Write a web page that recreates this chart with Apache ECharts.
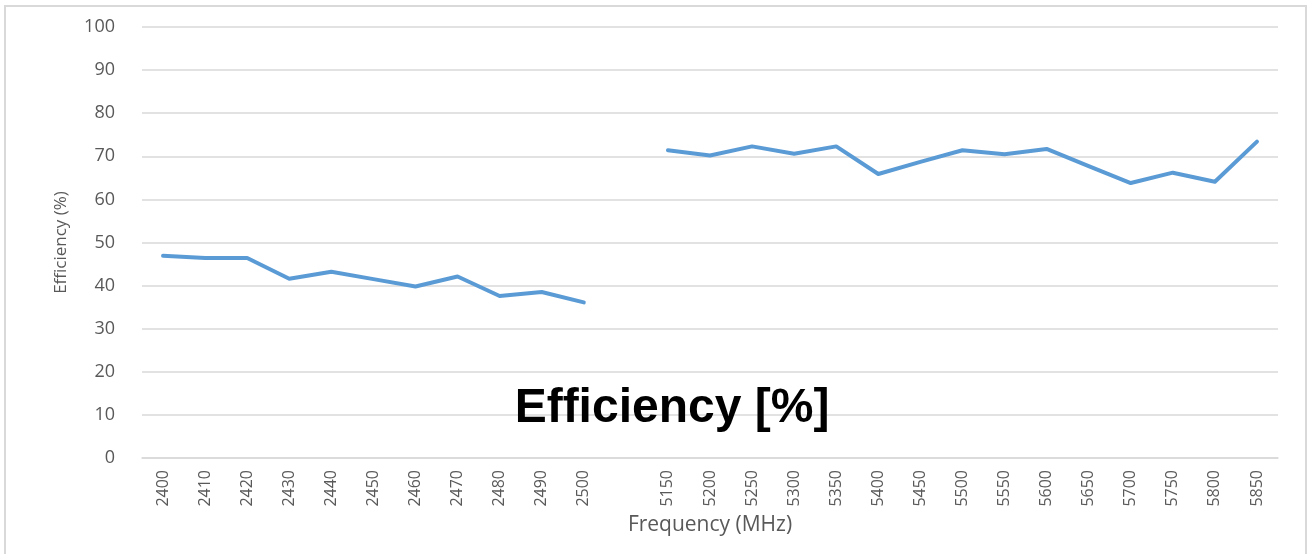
<!DOCTYPE html>
<html>
<head>
<meta charset="utf-8">
<script src="https://cdn.jsdelivr.net/npm/echarts@6/dist/echarts.min.js"></script>
<style>
  html, body { margin: 0; padding: 0; background: #fff; }
  #main { width: 1314px; height: 554px; }
</style>
</head>
<body>
<div id="main"></div>
<script>
// 2.4 GHz band, then an empty slot, then the 5 GHz band
var bandLow = ['2400', '2410', '2420', '2430', '2440', '2450', '2460', '2470', '2480', '2490', '2500'];
var bandHigh = ['5150', '5200', '5250', '5300', '5350', '5400', '5450', '5500', '5550', '5600', '5650', '5700', '5750', '5800', '5850'];
var effLow = [46.9, 46.4, 46.4, 41.6, 43.2, 41.5, 39.8, 42.1, 37.6, 38.5, 36.1];
var effHigh = [71.4, 70.2, 72.3, 70.6, 72.3, 65.9, 68.7, 71.4, 70.5, 71.7, 67.7, 63.8, 66.2, 64.1, 73.4];

var categories = bandLow.concat(['']).concat(bandHigh);
var values = effLow.concat([null]).concat(effHigh);

var chart = echarts.init(document.getElementById('main'), null, { renderer: 'canvas' });

var labelColor = '#595959';
var gridColor = '#d9d9d9';

var option = {
  animation: false,
  backgroundColor: '#fff',
  grid: { left: 142, right: 36, top: 27, bottom: 96 },
  xAxis: {
    type: 'category',
    data: categories,
    boundaryGap: true,
    name: 'Frequency (MHz)',
    nameLocation: 'middle',
    nameGap: 54,
    nameTextStyle: { color: labelColor, fontSize: 21, fontFamily: 'Open Sans' },
    axisLine: { lineStyle: { color: gridColor, width: 1.5 } },
    axisTick: { show: false },
    axisLabel: {
      rotate: 90,
      interval: 0,
      margin: 12,
      color: labelColor,
      fontSize: 16,
      fontFamily: 'Open Sans'
    }
  },
  yAxis: {
    type: 'value',
    min: 0,
    max: 100,
    interval: 10,
    name: 'Efficiency (%)',
    nameLocation: 'middle',
    nameGap: 72,
    nameTextStyle: { color: labelColor, fontSize: 17, fontFamily: 'Open Sans' },
    axisLine: { show: false },
    axisTick: { show: false },
    axisLabel: { margin: 27, color: labelColor, fontSize: 18, fontFamily: 'Open Sans' },
    splitLine: { lineStyle: { color: gridColor, width: 1.5 } }
  },
  series: [{
    type: 'line',
    data: values,
    showSymbol: false,
    symbol: 'none',
    connectNulls: false,
    lineStyle: { color: '#5b9bd5', width: 4, cap: 'round', join: 'round' },
    itemStyle: { color: '#5b9bd5' }
  }],
  graphic: [
    {
      type: 'rect',
      shape: { x: 5, y: 6, width: 1301, height: 570 },
      style: { fill: 'none', stroke: gridColor, lineWidth: 2 },
      silent: true
    },
    {
      type: 'text',
      x: 672,
      y: 409,
      style: {
        text: 'Efficiency [%]',
        font: 'bold 48px "Liberation Sans", Arial, sans-serif',
        fill: '#000',
        textAlign: 'center',
        textVerticalAlign: 'middle'
      },
      z: 100
    }
  ]
};

chart.setOption(option);
</script>
</body>
</html>
